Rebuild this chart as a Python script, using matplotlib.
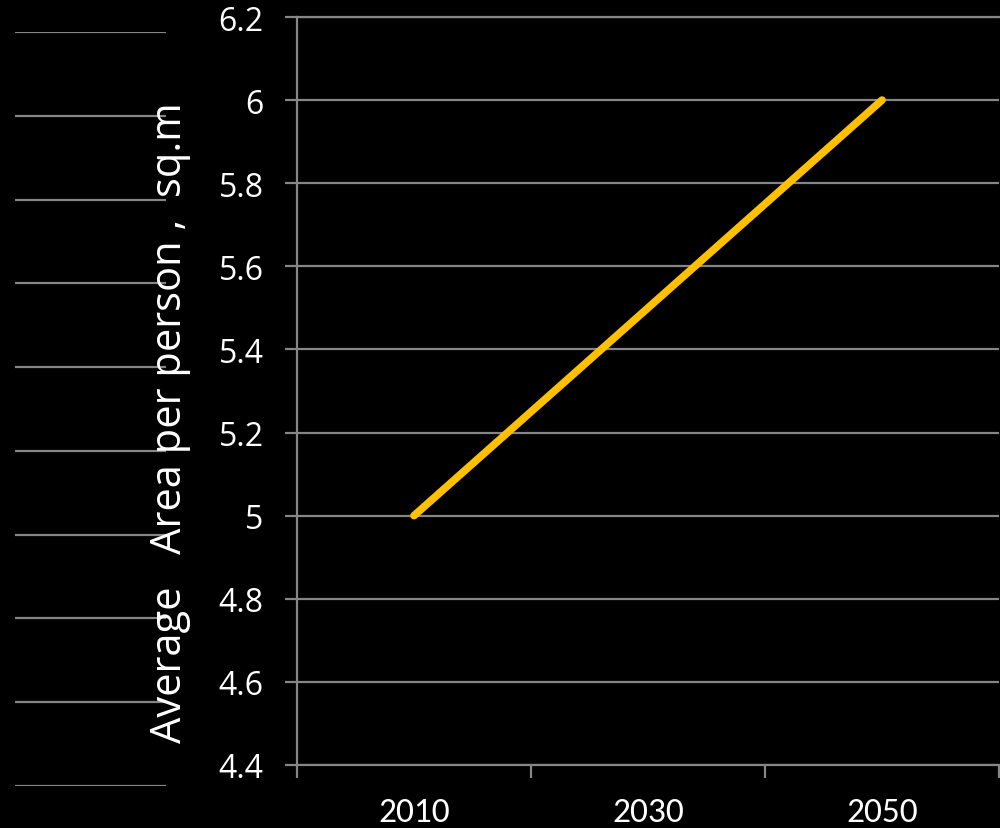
import matplotlib
matplotlib.use("Agg")
import matplotlib.pyplot as plt
import numpy as np

years = ["2010", "2030", "2050"]
area_per_person = [5.0, 5.5, 6.0]
y_ticks = [4.4, 4.6, 4.8, 5.0, 5.2, 5.4, 5.6, 5.8, 6.0, 6.2]
y_tick_labels = ["4.4", "4.6", "4.8", "5", "5.2", "5.4", "5.6", "5.8", "6", "6.2"]
y_label = "Average   Area per person ,  sq.m"

W, H = 1000, 829
grid_color = "#868686"
line_color = "#FFC000"

fig = plt.figure(figsize=(W / 100, H / 100), dpi=100, facecolor="black")

# decorative rule lines on the far left
deco = fig.add_axes([15 / W, 1 - 787 / H, 151 / W, (787 - 33) / H])
deco.set_facecolor("none")
deco.set_ylim(y_ticks[0], y_ticks[-1])
deco.set_yticks(y_ticks)
deco.set_xticks([])
deco.tick_params(left=False, labelleft=False)
for s in deco.spines.values():
    s.set_visible(False)
deco.grid(axis="y", color=grid_color, linewidth=1.6)

ax = fig.add_axes([297 / W, 1 - 766 / H, 702 / W, (766 - 18) / H])
ax.set_facecolor("black")
x = np.arange(len(years))
ax.plot(x, area_per_person, color=line_color, linewidth=5.5,
        solid_capstyle="round", zorder=3)

ax.set_xlim(-0.5, len(years) - 0.5)
ax.set_ylim(y_ticks[0], y_ticks[-1])
ax.set_yticks(y_ticks)
ax.set_yticklabels(y_tick_labels, fontfamily="Open Sans", fontsize=23, color="white")
ax.grid(axis="y", color=grid_color, linewidth=1.6, zorder=1)

# category labels centred between boundary tick marks
ax.set_xticks(x)
ax.set_xticklabels(years, fontfamily="Carlito", fontsize=25.5, color="white")
ax.set_xticks(np.arange(len(years) + 1) - 0.5, minor=True)
ax.tick_params(axis="x", which="major", length=0, pad=23)
ax.tick_params(axis="x", which="minor", length=9, width=1.6, color=grid_color, direction="out")
ax.tick_params(axis="y", length=9, width=1.6, color=grid_color, pad=15)

for side in ["left", "bottom", "top"]:
    ax.spines[side].set_color(grid_color)
    ax.spines[side].set_linewidth(1.6)
ax.spines["right"].set_visible(False)

fig.text(170 / W, 1 - 423 / H, y_label, rotation=90, ha="center", va="center",
         fontfamily="Open Sans", fontsize=30, color="white")

fig.savefig("out.png", dpi=100, facecolor="black")
